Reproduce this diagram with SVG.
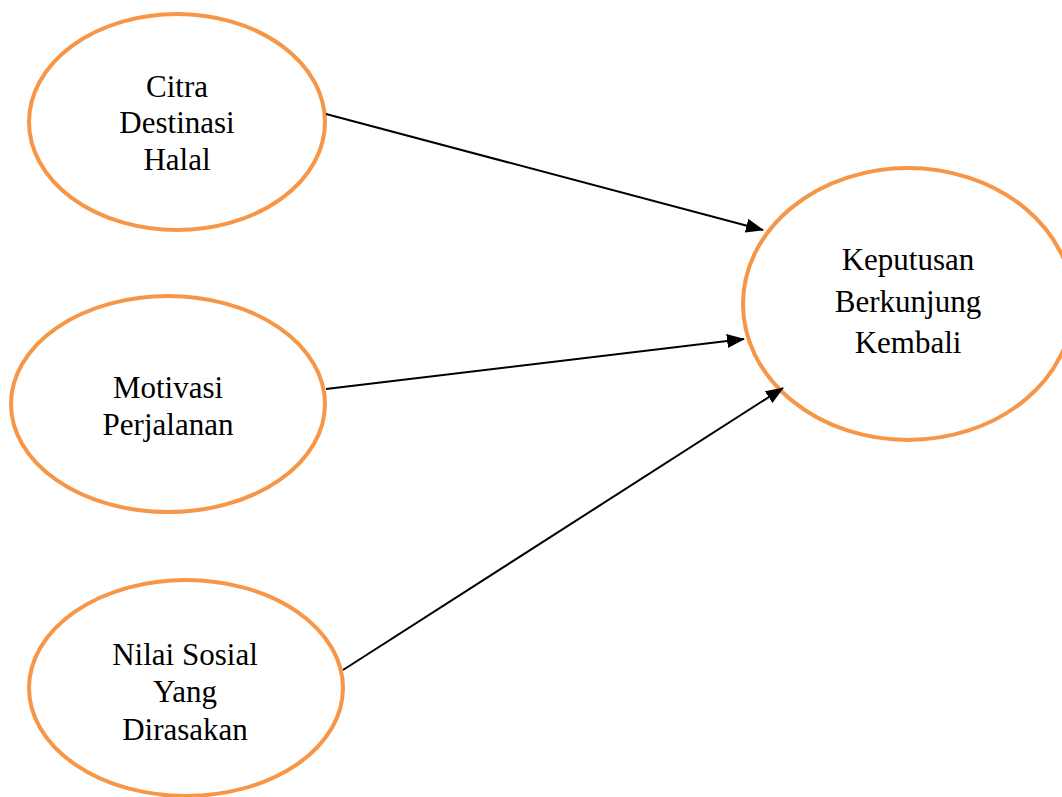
<svg xmlns="http://www.w3.org/2000/svg" width="1062" height="797" viewBox="0 0 1062 797">
<style>
.node{fill:#fff;stroke:#F79646;stroke-width:4}
.lbl{font-family:"Liberation Serif","Times New Roman",serif;font-size:31px;fill:#000;text-anchor:middle}
.edge{stroke:#000;stroke-width:2;fill:none}
</style>
<defs>
<marker id="ah" markerUnits="userSpaceOnUse" markerWidth="18" markerHeight="14" refX="17" refY="7" orient="auto">
<path d="M0,0 L18,7 L0,14 Z" fill="#000"/>
</marker>
</defs>
<rect width="1062" height="797" fill="#fff"/>
<g id="n1">
<ellipse class="node" cx="177" cy="122" rx="148" ry="108"/>
<text class="lbl" x="177" y="97">Citra</text>
<text class="lbl" x="177" y="133">Destinasi</text>
<text class="lbl" x="177" y="170">Halal</text>
</g>
<g id="n2">
<ellipse class="node" cx="168" cy="404" rx="157" ry="108"/>
<text class="lbl" x="168" y="398">Motivasi</text>
<text class="lbl" x="168" y="435">Perjalanan</text>
</g>
<g id="n3">
<ellipse class="node" cx="186" cy="688" rx="157" ry="108"/>
<text class="lbl" x="185" y="665">Nilai Sosial</text>
<text class="lbl" x="185" y="702">Yang</text>
<text class="lbl" x="185" y="740">Dirasakan</text>
</g>
<g id="n4">
<ellipse class="node" cx="908" cy="304" rx="165" ry="136"/>
<text class="lbl" x="908" y="270">Keputusan</text>
<text class="lbl" x="908" y="312">Berkunjung</text>
<text class="lbl" x="908" y="353">Kembali</text>
</g>
<g id="edges">
<line class="edge" x1="326" y1="114" x2="763" y2="230" marker-end="url(#ah)"/>
<line class="edge" x1="326" y1="389" x2="744" y2="339" marker-end="url(#ah)"/>
<line class="edge" x1="343" y1="670" x2="783" y2="388" marker-end="url(#ah)"/>
</g>
</svg>
